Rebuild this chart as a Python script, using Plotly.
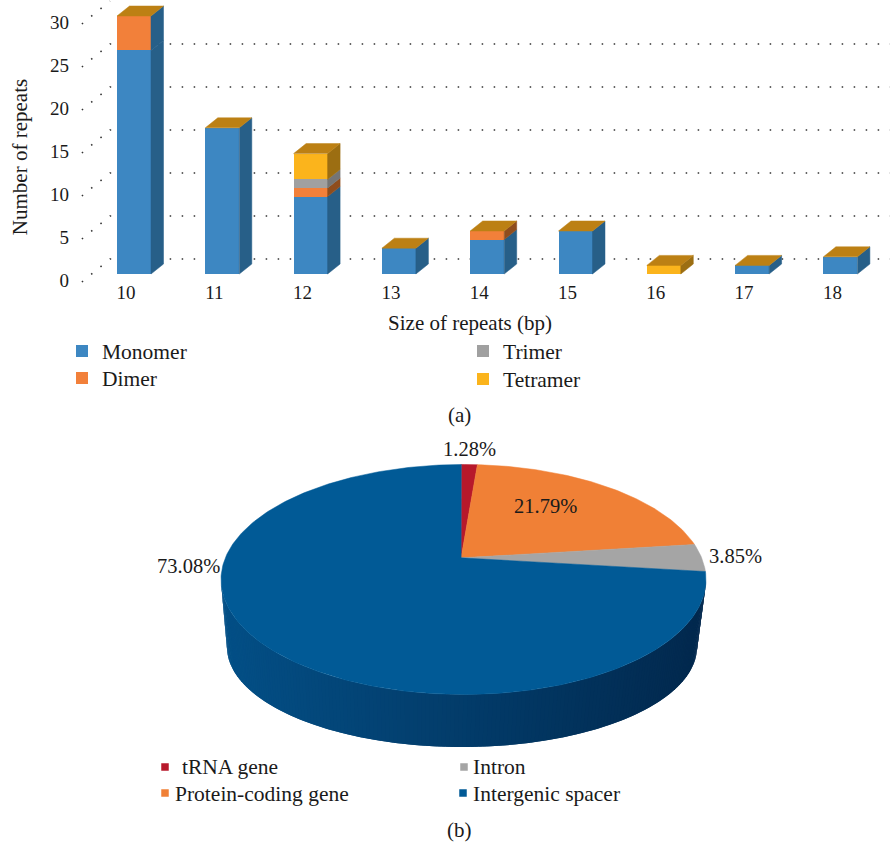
import numpy as np
import plotly.graph_objects as go

# ---------- data ----------
repeat_sizes = [10, 11, 12, 13, 14, 15, 16, 17, 18]
monomer = [26, 17, 9, 3, 4, 5, 0, 1, 2]
dimer = [4, 0, 1, 0, 1, 0, 0, 0, 0]
trimer = [0, 0, 1, 0, 0, 0, 0, 0, 0]
tetramer = [0, 0, 3, 0, 0, 0, 1, 0, 0]
y_ticks = [0, 5, 10, 15, 20, 25, 30]
region_names = ["tRNA gene", "Protein-coding gene", "Intron", "Intergenic spacer"]
region_shares = [1.28, 21.79, 3.85, 73.08]

# ---------- styles ----------
FONT = "Liberation Serif"
INK = "#1a1a1a"
W, H = 896, 844
TITLE_SIZE, LEGEND_SIZE, TICK_SIZE, PCT_SIZE = 21, 21.5, 19, 20.5
stack_names = ["Monomer", "Dimer", "Trimer", "Tetramer"]
stack_values = [monomer, dimer, trimer, tetramer]
front = ["#3d87c2", "#f2803a", "#a0a0a0", "#fbb41c"]
side = ["#275f88", "#8f4d1d", "#757575", "#9c6e12"]
side_override = {(0, 1): "#275f88"}  # the tallest bar keeps a blue side all the way up
top_colour = "#bc8014"
region_colours = ["#b7192b", "#f08036", "#a5a5a5", "#015a96"]

# bar chart geometry (pixels on the page -> axis domains)
PX_PER_CAT = 88.3
PX_PER_VAL = 8.6
X10_PX, BASE_PX = 134.0, 274.0
X_DOM_PX = (44.0, 896.0)
Y_DOM_PX = (0.0, 314.0)
BAR_W = 0.385
DX, DY = 12.5 / PX_PER_CAT, 10 / PX_PER_VAL

x_range = [10 + (X_DOM_PX[0] - X10_PX) / PX_PER_CAT, 10 + (X_DOM_PX[1] - X10_PX) / PX_PER_CAT]
y_range = [(BASE_PX - Y_DOM_PX[1]) / PX_PER_VAL, (BASE_PX - Y_DOM_PX[0]) / PX_PER_VAL]

fig = go.Figure()

legend_ids = ["legend", "legend2", "legend3", "legend4"]
for i, (name, vals) in enumerate(zip(stack_names, stack_values)):
    fig.add_trace(go.Bar(
        x=repeat_sizes, y=vals, name=name, width=BAR_W,
        marker=dict(color=front[i], line=dict(width=0)),
        legend=legend_ids[i], hoverinfo="skip",
    ))


def poly(xs, ys, colour, xa="x", ya="y", lw=0.5):
    fig.add_trace(go.Scatter(
        x=list(xs) + [xs[0]], y=list(ys) + [ys[0]], xaxis=xa, yaxis=ya,
        mode="lines", fill="toself", fillcolor=colour,
        line=dict(color=colour, width=lw), showlegend=False, hoverinfo="skip",
    ))


# side and top faces worked out from the stacked values
for k, cat in enumerate(repeat_sizes):
    base = 0
    right = cat + BAR_W / 2
    left = cat - BAR_W / 2
    for i, vals in enumerate(stack_values):
        v = vals[k]
        if v == 0:
            continue
        poly([right, right + DX, right + DX, right],
             [base, base + DY, base + v + DY, base + v],
             side_override.get((k, i), side[i]))
        base += v
    poly([left, left + DX, right + DX, right],
         [base, base + DY, base + DY, base], top_colour)

# dotted walls (below the bars)
WALL_X0, WALL_X1, WALL_X2 = 9.41, 9.728, 18.56
TICK_DROP, WALL_RISE = -0.93, 1.744
shapes = []
for t in y_ticks:
    xs = [WALL_X0, WALL_X1] + ([WALL_X2] if t < max(y_ticks) else [])
    ys = [t + TICK_DROP, t + WALL_RISE] + ([t + WALL_RISE] if t < max(y_ticks) else [])
    path = "M" + " L".join(f"{a},{b}" for a, b in zip(xs, ys))
    shapes.append(dict(type="path", path=path, xref="x", yref="y", layer="below",
                       line=dict(color="#333333", width=1.6, dash="1.5px,10.5px")))

# ---------- 3-D pie ----------
CX, CY, RX, RY = 463.5, 579.5, 242.5, 115.0
RX_B, RY_B, DROP, SHIFT_B = 235.0 / RX, 100.0 / RY, 67.5 / RY, -1.5 / RX
TILT = complex(-0.005, 0.095)  # moves the apex of the slices off the ellipse centre


def rim(theta):
    z = np.sin(theta) + 1j * np.cos(theta)
    w = (z + TILT) / (1 + np.conj(TILT) * z)
    return w.real, w.imag


apex = 2 * TILT / (1 + abs(TILT) ** 2)

# side wall as shaded strips, left to right; each overlaps the next
N = 180
phi = np.linspace(np.pi, 2 * np.pi, N + 1)
dark0 = np.array([0x03, 0x4f, 0x86])
dark1 = np.array([0x02, 0x28, 0x4d])
for j in range(N):
    a, b = phi[j], phi[min(j + 2, N)]
    f = (np.cos(a) + 1) / 2
    c = dark0 + (dark1 - dark0) * f
    col = f"rgb({c[0]:.0f},{c[1]:.0f},{c[2]:.0f})"
    poly([np.cos(a), np.cos(b), RX_B * np.cos(b) + SHIFT_B, RX_B * np.cos(a) + SHIFT_B],
         [np.sin(a), np.sin(b), RY_B * np.sin(b) - DROP, RY_B * np.sin(a) - DROP],
         col, "x2", "y2", lw=0)

# top slices
cum = np.cumsum([0] + region_shares) / sum(region_shares) * 2 * np.pi
for i, col in enumerate(region_colours):
    th = np.linspace(cum[i], cum[i + 1], max(int(region_shares[i] * 4), 6))
    rx_, ry_ = rim(th)
    poly([apex.real] + list(rx_), [apex.imag] + list(ry_), col, "x2", "y2")


def px_x(px):
    return (px - CX) / RX


def px_y(py):
    return (CY - py) / RY


# pie key: swatch traces and text notes
key_swatch_px = [(165, 767), (165, 793), (464, 767), (463, 793)]
key_text_px = [(182, 767), (175, 794), (473, 767), (473, 794)]
for (sx, sy), name, col in zip(key_swatch_px, region_names, region_colours):
    fig.add_trace(go.Scatter(
        x=[px_x(sx)], y=[px_y(sy)], xaxis="x2", yaxis="y2", mode="markers", name=name,
        marker=dict(symbol="square", size=7.5, color=col, line=dict(width=0)),
        showlegend=False, hoverinfo="skip",
    ))


# ---------- text ----------
def note(px, py, text, size, xanchor="center"):
    return dict(x=px / W, y=1 - py / H, xref="paper", yref="paper", text=text,
                showarrow=False, xanchor=xanchor, yanchor="middle",
                xshift=0, borderpad=0, borderwidth=0,
                font=dict(family=FONT, size=size, color=INK))


label_px = [(469, 449), (545, 506), (735, 556), (188, 566)]
annotations = [note(460, 415, "(a)", TITLE_SIZE), note(460, 830, "(b)", TITLE_SIZE)]
for (px, py), v in zip(label_px, region_shares):
    annotations.append(note(px, py, f"{v:.2f}%", PCT_SIZE))
for (px, py), name in zip(key_text_px, region_names):
    annotations.append(note(px, py, name, LEGEND_SIZE, "left"))


def legend_at(px, py):
    return dict(x=px / W, y=1 - py / H, xanchor="left", yanchor="middle",
                bgcolor="rgba(0,0,0,0)", borderwidth=0,
                font=dict(family=FONT, size=LEGEND_SIZE, color=INK),
                itemclick=False, itemdoubleclick=False)


fig.update_layout(
    width=W, height=H, autosize=False,
    margin=dict(l=0, r=0, t=0, b=0),
    paper_bgcolor="white", plot_bgcolor="rgba(0,0,0,0)",
    barmode="stack", bargap=0,
    font=dict(family=FONT, size=TICK_SIZE, color=INK),
    shapes=shapes, annotations=annotations,
    showlegend=True,
    legend=legend_at(62, 351),
    legend2=legend_at(62, 378),
    legend3=legend_at(463, 351),
    legend4=legend_at(463, 379),
    xaxis=dict(
        domain=[X_DOM_PX[0] / W, X_DOM_PX[1] / W], range=x_range,
        anchor="free", position=1 - 279 / H,
        tickmode="array", tickvals=repeat_sizes, ticktext=[str(c) for c in repeat_sizes],
        ticklabelshift=-8, showgrid=False, zeroline=False, showline=False, ticks="",
        title=dict(text="Size of repeats (bp)", standoff=13, font=dict(family=FONT, size=TITLE_SIZE, color=INK)),
        tickfont=dict(family=FONT, size=TICK_SIZE, color=INK),
    ),
    yaxis=dict(
        domain=[1 - Y_DOM_PX[1] / H, 1 - Y_DOM_PX[0] / H], range=y_range,
        anchor="free", position=69 / W,
        tickmode="array", tickvals=y_ticks, ticktext=[str(t) for t in y_ticks],
        ticklabelshift=6, showgrid=False, zeroline=False, showline=False, ticks="",
        title=dict(text="Number of repeats", standoff=15, font=dict(family=FONT, size=TITLE_SIZE, color=INK)),
        tickfont=dict(family=FONT, size=TICK_SIZE, color=INK),
    ),
    xaxis2=dict(domain=[0, 1], range=[-CX / RX, (W - CX) / RX], visible=False, anchor="y2"),
    yaxis2=dict(domain=[0, 1], range=[(CY - H) / RY, CY / RY], visible=False, anchor="x2"),
)

fig.write_html(
    "out.html", config=dict(displayModeBar=False),
    post_script="document.body.style.margin='0';document.body.style.overflow='hidden';",
)
